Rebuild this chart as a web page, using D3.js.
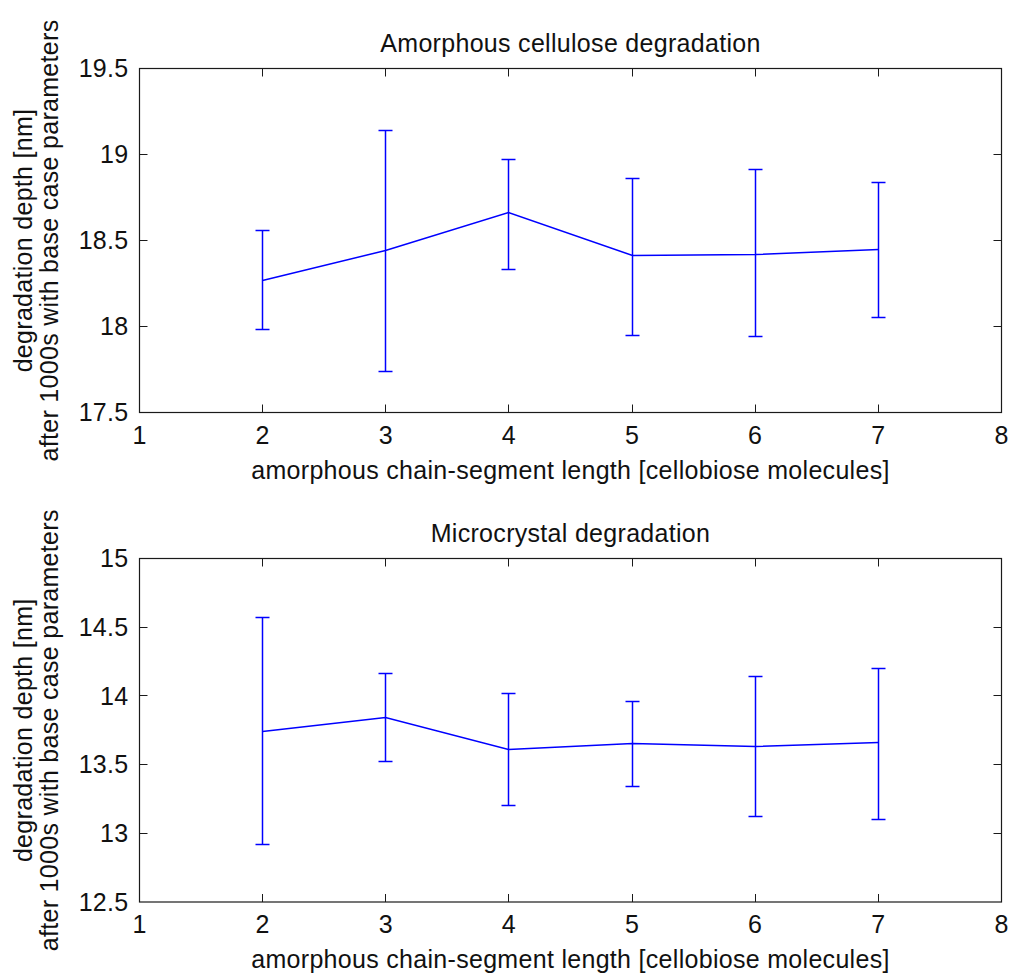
<!DOCTYPE html>
<html>
<head>
<meta charset="utf-8">
<script src="https://cdnjs.cloudflare.com/ajax/libs/d3/7.8.5/d3.min.js"></script>
<style>
  body { margin: 0; background: #fff; }
  svg { display: block; }
  text { font-family: Arial, "Liberation Sans", Helvetica, sans-serif; fill: #111; letter-spacing: 0.3px; }
</style>
</head>
<body>
<div id="chart"></div>
<script>
// chain-segment lengths (x values)
var segmentLengths = [2, 3, 4, 5, 6, 7];

// top panel: amorphous cellulose degradation
var amorphousMean  = [18.27, 18.44, 18.66, 18.41, 18.42, 18.45];
var amorphousUpper = [18.56, 19.14, 18.97, 18.86, 18.91, 18.84];
var amorphousLower = [17.98, 17.74, 18.33, 17.95, 17.94, 18.05];

// bottom panel: microcrystal degradation
var microMean  = [13.74, 13.84, 13.61, 13.65, 13.63, 13.66];
var microUpper = [14.57, 14.16, 14.02, 13.96, 14.14, 14.20];
var microLower = [12.92, 13.52, 13.20, 13.34, 13.12, 13.10];

var xTicks = [1, 2, 3, 4, 5, 6, 7, 8];
var amorphousTicks = [17.5, 18, 18.5, 19, 19.5];
var microTicks = [12.5, 13, 13.5, 14, 14.5, 15];

var titles = ['Amorphous cellulose degradation', 'Microcrystal degradation'];
var xLabel = 'amorphous chain-segment length [cellobiose molecules]';
var yLabelLines = ['degradation depth [nm]', 'after 1000s with base case parameters'];

var width = 1012, height = 974;
var fontSize = 25;
var tickLen = 8;
var capHalf = 7;
var blue = '#0000ff';

var svg = d3.select('#chart').append('svg')
  .attr('width', width)
  .attr('height', height);

var x = d3.scaleLinear().domain([1, 8]).range([139.5, 1001.5]);

// snap to pixel centres so 1px lines stay sharp
function px(v) { return Math.round(v - 0.5) + 0.5; }

function drawPanel(top, bottom, yDomain, yTicks, mean, upper, lower, title) {
  var y = d3.scaleLinear().domain(yDomain).range([bottom, top]);
  var g = svg.append('g');

  // box with inward ticks on all sides
  var axisColor = '#1a1a1a';
  g.append('rect')
    .attr('x', x.range()[0]).attr('y', top)
    .attr('width', x.range()[1] - x.range()[0]).attr('height', bottom - top)
    .attr('fill', 'none').attr('stroke', axisColor).attr('stroke-width', 1.2);

  var xt = xTicks.slice(1, -1);
  g.selectAll('.xtb').data(xt).enter().append('line')
    .attr('x1', function(d) { return px(x(d)); }).attr('x2', function(d) { return px(x(d)); })
    .attr('y1', bottom).attr('y2', bottom - tickLen)
    .attr('stroke', axisColor);
  g.selectAll('.xtt').data(xt).enter().append('line')
    .attr('x1', function(d) { return px(x(d)); }).attr('x2', function(d) { return px(x(d)); })
    .attr('y1', top).attr('y2', top + tickLen)
    .attr('stroke', axisColor);

  var yt = yTicks.slice(1, -1);
  g.selectAll('.ytl').data(yt).enter().append('line')
    .attr('x1', x.range()[0]).attr('x2', x.range()[0] + tickLen)
    .attr('y1', function(d) { return px(y(d)); }).attr('y2', function(d) { return px(y(d)); })
    .attr('stroke', axisColor);
  g.selectAll('.ytr').data(yt).enter().append('line')
    .attr('x1', x.range()[1]).attr('x2', x.range()[1] - tickLen)
    .attr('y1', function(d) { return px(y(d)); }).attr('y2', function(d) { return px(y(d)); })
    .attr('stroke', axisColor);

  // tick labels
  g.selectAll('.xl').data(xTicks).enter().append('text')
    .attr('x', function(d) { return x(d); })
    .attr('y', bottom + 31)
    .attr('text-anchor', 'middle')
    .style('font-size', fontSize + 'px')
    .text(function(d) { return d; });

  g.selectAll('.yl').data(yTicks).enter().append('text')
    .attr('x', x.range()[0] - 11)
    .attr('y', function(d) { return y(d); })
    .attr('dy', '0.35em')
    .attr('text-anchor', 'end')
    .style('font-size', fontSize + 'px')
    .text(function(d) { return d; });

  // title and axis labels
  g.append('text')
    .attr('x', (x.range()[0] + x.range()[1]) / 2)
    .attr('y', top - 17)
    .attr('text-anchor', 'middle')
    .style('font-size', fontSize + 'px')
    .text(title);

  g.append('text')
    .attr('x', (x.range()[0] + x.range()[1]) / 2)
    .attr('y', bottom + 66)
    .attr('text-anchor', 'middle')
    .style('font-size', fontSize + 'px')
    .text(xLabel);

  var cy = (top + bottom) / 2;
  g.selectAll('.ylab').data(yLabelLines).enter().append('text')
    .attr('transform', function(d, i) { return 'translate(' + (32 + i * 26) + ',' + cy + ') rotate(-90)'; })
    .attr('text-anchor', 'middle')
    .style('font-size', fontSize + 'px')
    .text(function(d) { return d; });

  // data line
  var pts = segmentLengths.map(function(d, i) { return [d, mean[i], upper[i], lower[i]]; });
  var line = d3.line()
    .x(function(d) { return px(x(d[0])); })
    .y(function(d) { return px(y(d[1])); });

  g.append('path')
    .datum(pts)
    .attr('d', line)
    .attr('fill', 'none')
    .attr('stroke', blue)
    .attr('stroke-width', 1.5);

  // error bars
  var eb = g.selectAll('.eb').data(pts).enter().append('g')
    .attr('stroke', blue).attr('stroke-width', 1.5);
  eb.append('line')
    .attr('x1', function(d) { return px(x(d[0])); }).attr('x2', function(d) { return px(x(d[0])); })
    .attr('y1', function(d) { return px(y(d[2])); }).attr('y2', function(d) { return px(y(d[3])); });
  eb.append('line')
    .attr('x1', function(d) { return px(x(d[0])) - capHalf; }).attr('x2', function(d) { return px(x(d[0])) + capHalf; })
    .attr('y1', function(d) { return px(y(d[2])); }).attr('y2', function(d) { return px(y(d[2])); });
  eb.append('line')
    .attr('x1', function(d) { return px(x(d[0])) - capHalf; }).attr('x2', function(d) { return px(x(d[0])) + capHalf; })
    .attr('y1', function(d) { return px(y(d[3])); }).attr('y2', function(d) { return px(y(d[3])); });
}

drawPanel(68.5, 412.5, [17.5, 19.5], amorphousTicks, amorphousMean, amorphousUpper, amorphousLower, titles[0]);
drawPanel(558.5, 902, [12.5, 15], microTicks, microMean, microUpper, microLower, titles[1]);
</script>
</body>
</html>
